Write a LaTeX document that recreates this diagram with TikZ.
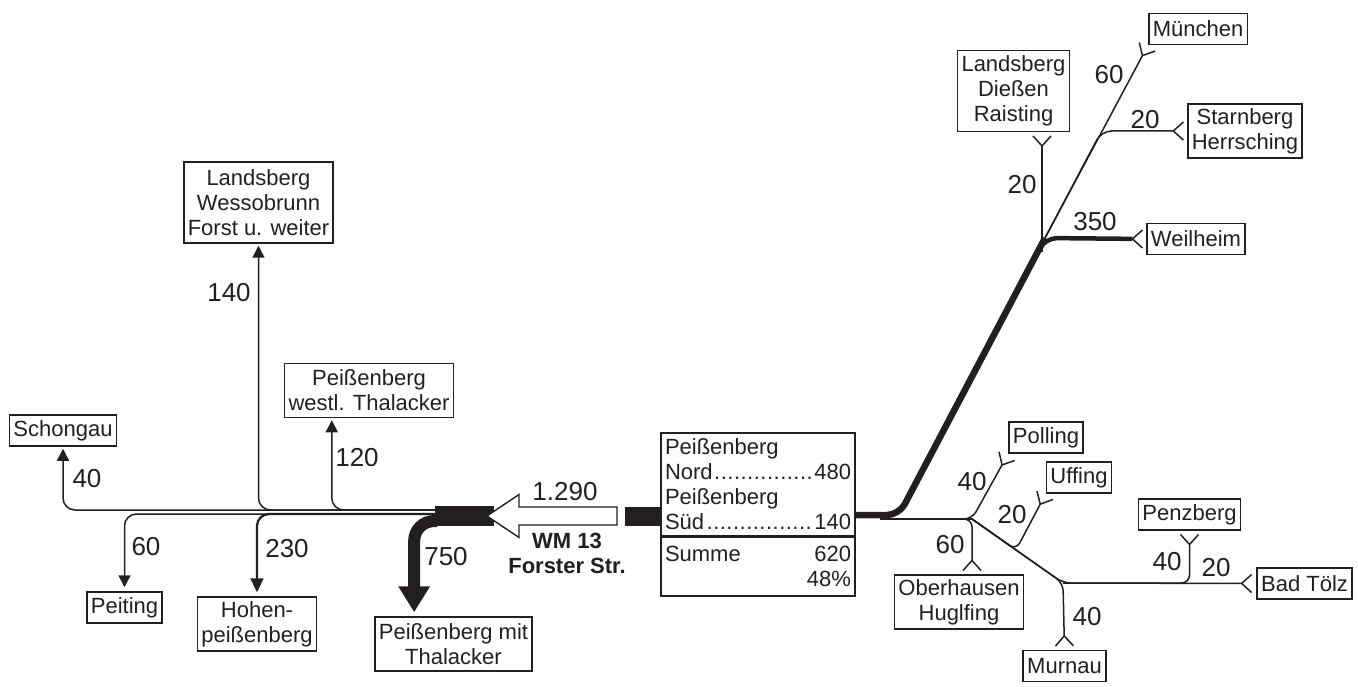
\documentclass[tikz,border=0pt]{standalone}
\usepackage{fontspec}
\setmainfont{Liberation Sans}
\usetikzlibrary{arrows.meta,calc}
\definecolor{ink}{RGB}{35,31,32}
\newcommand\ptsfill{\leavevmode\cleaders\hbox to 0.3em{\hss.\hss}\hfill\kern0pt}

\begin{document}
\begin{tikzpicture}[x=1pt,y=-1pt,
  box/.style={draw=ink,line width=1.5pt,inner xsep=4pt,inner ysep=4pt,minimum height=31pt,
    align=center,text=ink,font=\fontsize{22}{25}\selectfont},
  two/.style={box,minimum height=54pt},
  three/.style={box,minimum height=81pt},
  num/.style={text=ink,font=\fontsize{26}{28}\selectfont},
  flow/.style={draw=ink,line width=1.5pt,rounded corners=12pt},
  tipout/.style={-{Triangle[length=12pt,width=12pt]},shorten >=2pt},
  tipin/.style={-{Straight Barb[reversed,length=10pt,width=18pt,line width=1.5pt]},shorten >=3pt}]
\useasboundingbox (0,0) rectangle (1358,687);

% Ziele West
\node[box] (schongau) at (63,430.5) {Schongau};
\node[three] (wesso) at (258.5,202.5) {Landsberg\\Wessobrunn\\Forst u. weiter};
\node[two] (westl) at (369,390.5) {Peißenberg\\westl. Thalacker};
\node[box] (peiting) at (124.5,607.5) {Peiting};
\node[two] (hohen) at (257,624) {Hohen-\\peißenberg};
\node[two] (mitthal) at (453.5,644) {Peißenberg mit\\Thalacker};

% Zählstelle
\node[box,align=left,text width=186pt,minimum height=103pt,inner sep=4pt] (sumtop) at (758,484.5)
  {Peißenberg\\Nord\ptsfill480\\Peißenberg\\Süd\ptsfill140};
\node[box,align=left,text width=186pt,minimum height=59pt,inner sep=4pt,outer sep=0pt,anchor=north]
  (sumbot) at (sumtop.south) {Summe\hfill620\\\leavevmode\hfill48\%};

% Ziele Ost
\node[three] (diessen) at (1013.5,91) {Landsberg\\Dießen\\Raisting};
\node[box] (muenchen) at (1198,29) {München};
\node[two] (starnberg) at (1245,131) {Starnberg\\Herrsching};
\node[box] (weilheim) at (1196,239) {Weilheim};
\node[box] (polling) at (1046,437.5) {Polling};
\node[box] (uffing) at (1079,477.5) {Uffing};
\node[two] (oberhausen) at (959,602) {Oberhausen\\Huglfing};
\node[box] (penzberg) at (1189.5,514.5) {Penzberg};
\node[box] (badtoelz) at (1304.5,583.5) {Bad Tölz};
\node[box] (murnau) at (1064.5,666) {Murnau};

% Knoten
\coordinate (wu) at (437,510);
\coordinate (wd) at (437,514);
\coordinate (wt) at (437,521);
\coordinate (sr) at (855,515);
\coordinate (sl) at (880,519);
\coordinate (j1) at (1045,238);
\coordinate (jd) at (1042,252);
\coordinate (jb) at (1101.5,131);
\coordinate (j2) at (972,519);
\coordinate (ju) at (1016,550);
\coordinate (j3) at (1063,583);
\coordinate (wmtip) at (487,516);

% Westseite
\draw[flow,tipout] (wu) -| (schongau.south);
\draw[flow,tipout] (wu) -| (wesso.south);
\draw[flow,tipout] (wu) -| ([xshift=48pt]westl.south west);
\draw[flow,tipout,shorten >=4pt] (wd) -| (peiting.north);
\draw[flow,line width=2.3pt,-{Triangle[length=14pt,width=13pt]},shorten >=4pt] (wd) -| (hohen.north);
\draw[flow,line width=12pt,rounded corners=20pt,-{Triangle[length=26pt,width=30pt]},shorten >=4pt]
  (wt) -| ([xshift=40pt]mitthal.north west);
\fill[ink] (435,506) rectangle (494,526);
\draw[ink,line width=1.4pt,fill=white] (wmtip) -- ++(32,-21.5) -- ++(0,12.5) -- ++(98,0) -- ++(0,18)
  -- ++(-98,0) -- ++(0,12.5) -- cycle;
\fill[ink] (625,507) rectangle (sumtop.west |- 0,526);

\node[num] (n40w) at (87,479) {40};
\node[num] (n140) at (229,293) {140};
\node[num] (n120) at (357,458) {120};
\node[num] (n60w) at (146,547) {60};
\node[num] (n230) at (287,549) {230};
\node[num] (n750) at (446,557) {750};
\node[num] (n1290) at (565,492) {1.290};
\node[text=ink,align=center,font=\bfseries\fontsize{22}{25}\selectfont] (wm) at (567,553.5) {WM 13\\Forster Str.};

% Ostseite
\draw[flow] (sl) -- (j2);
\draw[flow,tipin,shorten >=1pt] (j1) -- (muenchen.south west);
\draw[flow,rounded corners=10pt,tipin] (j1) -- (jb) -- (starnberg.west);
\draw[flow,tipin] (jd) -- (jd |- diessen.south);
\draw[flow,line width=4.5pt,tipin] ($(j1)!0.1!(899,515)$) -- (j1) -- (weilheim.west);
\draw[flow,line width=6.5pt] (sr) -- (899,515) -- (j1);
\draw[flow,rounded corners=8pt,tipin,shorten >=2pt] (sl) -- (j2) -- (polling.south west);
\draw[flow,rounded corners=8pt,tipin,shorten >=1pt] (j2) -- (ju) -- (uffing.south west);
\draw[flow,rounded corners=8pt,tipin] (sl) -- (j2) -- (j2 |- oberhausen.north);
\draw[flow,rounded corners=8pt,tipin,shorten >=4pt] (j2) -- (j3) -- (badtoelz.west);
\draw[flow,rounded corners=8pt,tipin] (j2) -- (j3) -- (murnau.north);
\draw[flow,rounded corners=8pt,tipin] (j3) -| (penzberg.south);

\node[num] (n60m) at (1109,75) {60};
\node[num] (n20s) at (1145,120) {20};
\node[num] (n20d) at (1022,185) {20};
\node[num] (n350) at (1095,222) {350};
\node[num] (n40p) at (972,482) {40};
\node[num] (n60o) at (950,545) {60};
\node[num] (n20u) at (1012,515) {20};
\node[num] (n40z) at (1167,562) {40};
\node[num] (n20t) at (1216,568) {20};
\node[num] (n40m) at (1087,617) {40};
\end{tikzpicture}
\end{document}
